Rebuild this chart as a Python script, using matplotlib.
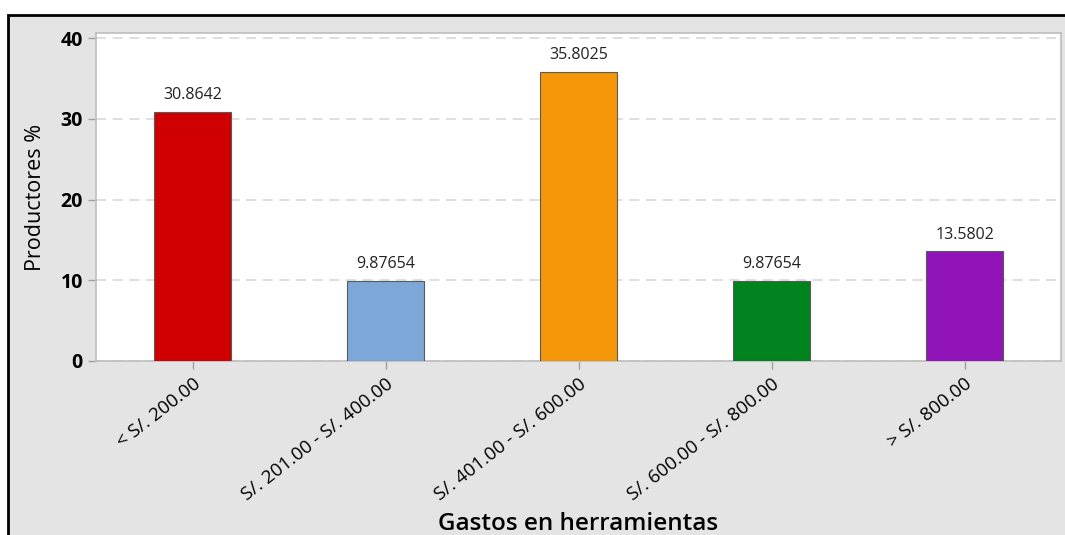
import matplotlib.pyplot as plt
from matplotlib.patches import Rectangle

plt.rcParams['font.family'] = ['Open Sans', 'DejaVu Sans']

categories = ['< S/. 200.00', 'S/. 201.00 - S/. 400.00', 'S/. 401.00 - S/. 600.00',
              'S/. 600.00 - S/. 800.00', '> S/. 800.00']
values = [30.8642, 9.87654, 35.8025, 9.87654, 13.5802]
value_labels = ['30.8642', '9.87654', '35.8025', '9.87654', '13.5802']
colors = ['#d10000', '#7da7d8', '#f59709', '#00821f', '#9014b8']
yticks = [0, 10, 20, 30, 40]

fig = plt.figure(figsize=(10.65, 5.35), dpi=100)
fig.patch.set_facecolor('white')

# grey panel with black frame, cut off at right and bottom
panel = Rectangle((8 / 1065, -0.05), 1.1, 1 - 15 / 535 + 0.05, transform=fig.transFigure,
                  facecolor='#e4e4e4', edgecolor='black', linewidth=2, zorder=-5)
fig.patches.append(panel)

ax = fig.add_axes([96 / 1065, 1 - 361 / 535, (1061 - 96) / 1065, (361 - 33) / 535])
ax.set_facecolor('white')

x = range(len(categories))
ax.bar(x, values, width=0.4, color=colors, edgecolor='#5a5a5a', linewidth=0.8, zorder=3)
for i, v in enumerate(values):
    ax.text(i, v + 1.1, value_labels[i], ha='center', va='bottom', fontsize=11.5, color='#222222')

ax.set_xlim(-0.5, len(categories) - 0.5)
ax.set_ylim(0, 40.65)
ax.set_yticks(yticks)
ax.set_yticklabels([str(t) for t in yticks], fontsize=14, fontweight='bold')
ax.set_xticks(list(x))
ax.set_xticklabels(categories, rotation=38, ha='right', rotation_mode='anchor', fontsize=13.5)

ax.yaxis.grid(True, linestyle=(0, (6, 4)), color='#d9d9d9', linewidth=1.2, zorder=0)
ax.set_axisbelow(True)
for s in ax.spines.values():
    s.set_color('#bdbdbd')
    s.set_linewidth(1.2)
ax.tick_params(axis='both', color='#a0a0a0', length=6, width=1)
ax.tick_params(axis='x', pad=4)

ax.set_ylabel('Productores %', fontsize=15.5)
ax.yaxis.set_label_coords(-0.063, 0.5)
ax.yaxis.label.set_va('center')
ax.set_xlabel('Gastos en herramientas', fontsize=17.5, fontweight='semibold')
ax.xaxis.set_label_coords(0.5, -0.497)
ax.xaxis.label.set_va('center')

fig.savefig('out.png', dpi=100)
